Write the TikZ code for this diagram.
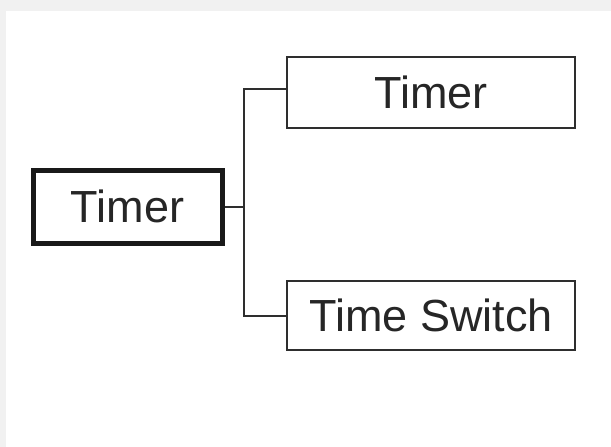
\documentclass[tikz,border=0pt]{standalone}
\usepackage{fontspec}
\setmainfont{Liberation Sans}
\usetikzlibrary{calc}
\definecolor{bggray}{HTML}{F1F1F1}
\definecolor{linegray}{HTML}{2E2E2E}
\tikzset{
  box/.style={draw=linegray, line width=2pt, fill=white, inner sep=0pt,
    font=\fontsize{45}{45}\selectfont, text=black!85},
  mainbox/.style={box, draw=black!90, line width=5pt},
  conn/.style={draw=linegray, line width=2pt}
}
\begin{document}
\begin{tikzpicture}[x=1pt,y=-1pt]
\useasboundingbox (0,0) rectangle (611,447);
\fill[bggray] (0,0) rectangle (611,447);
\fill[white] (6,11) rectangle (611,447);
\node[mainbox, minimum width=189pt, minimum height=73pt] (main) at (127.5,206.5) {Timer};
\node[box, minimum width=288pt, minimum height=71pt] (top) at (431,92.5) {Timer};
\node[box, minimum width=288pt, minimum height=69pt] (bot) at (431,315.5) {Time Switch};
\coordinate (j) at (244,206.5);
\coordinate (ta) at ($(top.west)+(0,-4)$);
\draw[conn] (main.east) -- (j);
\draw[conn] (ta) -| (j) |- (bot.west);
\end{tikzpicture}
\end{document}
